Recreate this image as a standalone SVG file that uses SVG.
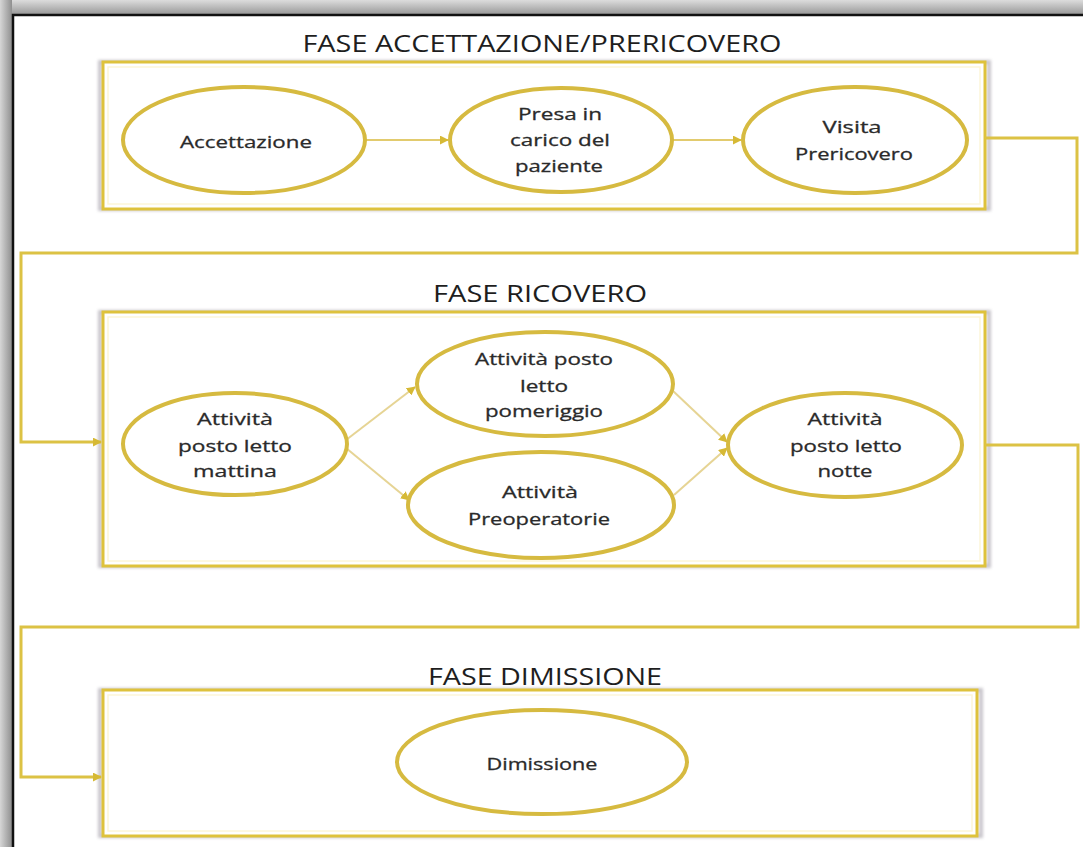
<svg xmlns="http://www.w3.org/2000/svg" width="1083" height="847" viewBox="0 0 1083 847">
  <style>
    .phase { fill: #ffffff; stroke: #DEC23C; stroke-width: 3; }
    .phase-inner { fill: none; stroke: #FDF6D8; stroke-width: 1.5; }
    .phase-shadow { fill: none; stroke: #C9C6CC; stroke-width: 4; }
    .node { fill: #ffffff; stroke: #D6BA40; stroke-width: 4; }
    .title { font-family: "Open Sans", "Liberation Sans", sans-serif; font-size: 24px; fill: #1e1e1e; text-anchor: middle; }
    .label { font-family: "Open Sans", "Liberation Sans", sans-serif; font-size: 17px; fill: #2a2a2a; text-anchor: middle; stroke: #2a2a2a; stroke-width: 0.3; }
    .link { fill: none; stroke: #DCC244; stroke-width: 3; }
    .flow { fill: none; stroke: #E2CB6E; stroke-width: 2; }
    .branch { fill: none; stroke: #E6D494; stroke-width: 2; }
  </style>
  <defs>
    <marker id="arrow" viewBox="0 0 10 10" refX="9" refY="5" markerWidth="9" markerHeight="9" markerUnits="userSpaceOnUse" orient="auto">
      <path d="M0,0 L10,5 L0,10 z" fill="#D6B935"/>
    </marker>
    <linearGradient id="topShade" x1="0" y1="0" x2="0" y2="1">
      <stop offset="0" stop-color="#dcdcdc"/>
      <stop offset="1" stop-color="#9a9a9a"/>
    </linearGradient>
    <linearGradient id="leftShade" x1="0" y1="0" x2="1" y2="0">
      <stop offset="0" stop-color="#d6d6d6"/>
      <stop offset="1" stop-color="#8f8f8f"/>
    </linearGradient>
    <filter id="soft" x="-5%" y="-5%" width="110%" height="110%">
      <feGaussianBlur stdDeviation="1.5"/>
    </filter>
  </defs>

  <!-- page frame with shaded margin -->
  <rect x="0" y="0" width="1083" height="847" fill="#ffffff"/>
  <rect x="0" y="0" width="1083" height="14" fill="url(#topShade)"/>
  <rect x="0" y="0" width="12" height="847" fill="url(#leftShade)"/>
  <path d="M13,847 V15 H1083" fill="none" stroke="#111111" stroke-width="2.5"/>

  <!-- phase 1: acceptance / pre-admission -->
  <g id="phase-accettazione">
    <rect class="phase-shadow" x="100" y="62" width="889" height="147" filter="url(#soft)"/>
    <rect class="phase" x="103" y="62" width="882" height="147"/>
    <rect class="phase-inner" x="108" y="67" width="872" height="137"/>
    <text class="title" x="542" y="52" textLength="479" lengthAdjust="spacingAndGlyphs">FASE ACCETTAZIONE/PRERICOVERO</text>
  </g>

  <!-- phase 2: admission -->
  <g id="phase-ricovero">
    <rect class="phase-shadow" x="100" y="312" width="889" height="254" filter="url(#soft)"/>
    <rect class="phase" x="103" y="312" width="882" height="254"/>
    <rect class="phase-inner" x="108" y="317" width="872" height="244"/>
    <text class="title" x="540" y="302" textLength="214" lengthAdjust="spacingAndGlyphs">FASE RICOVERO</text>
  </g>

  <!-- phase 3: discharge -->
  <g id="phase-dimissione">
    <rect class="phase-shadow" x="100" y="690" width="881" height="146" filter="url(#soft)"/>
    <rect class="phase" x="103" y="690" width="874" height="146"/>
    <rect class="phase-inner" x="108" y="695" width="864" height="136"/>
    <text class="title" x="545" y="685" textLength="234" lengthAdjust="spacingAndGlyphs">FASE DIMISSIONE</text>
  </g>

  <!-- connectors -->
  <g id="connectors">
    <path class="link" d="M985,138 H1077 V253 H21 V442 H101" marker-end="url(#arrow)"/>
    <path class="link" d="M985,445 H1078 V627 H21 V777 H101" marker-end="url(#arrow)"/>
    <path class="flow" d="M365,140 H448" marker-end="url(#arrow)"/>
    <path class="flow" d="M672,140 H741" marker-end="url(#arrow)"/>
    <path class="branch" d="M346,440 L415,387" marker-end="url(#arrow)"/>
    <path class="branch" d="M346,448 L409,500" marker-end="url(#arrow)"/>
    <path class="branch" d="M672,390 L727,442" marker-end="url(#arrow)"/>
    <path class="branch" d="M674,495 L727,448" marker-end="url(#arrow)"/>
  </g>

  <g id="node-accettazione">
    <ellipse class="node" cx="244" cy="140" rx="121" ry="53"/>
    <text class="label" x="246" y="148" textLength="132" lengthAdjust="spacingAndGlyphs">Accettazione</text>
  </g>

  <g id="node-presa-in-carico">
    <ellipse class="node" cx="561" cy="140" rx="111" ry="52"/>
    <text class="label" x="560" y="120" textLength="84" lengthAdjust="spacingAndGlyphs">Presa in</text>
    <text class="label" x="560" y="146" textLength="100" lengthAdjust="spacingAndGlyphs">carico del</text>
    <text class="label" x="559" y="172" textLength="88" lengthAdjust="spacingAndGlyphs">paziente</text>
  </g>

  <g id="node-visita-prericovero">
    <ellipse class="node" cx="855" cy="140" rx="112" ry="53"/>
    <text class="label" x="852" y="133" textLength="59" lengthAdjust="spacingAndGlyphs">Visita</text>
    <text class="label" x="854" y="160" textLength="118" lengthAdjust="spacingAndGlyphs">Prericovero</text>
  </g>

  <g id="node-mattina">
    <ellipse class="node" cx="235" cy="444" rx="112" ry="51"/>
    <text class="label" x="235" y="425" textLength="76" lengthAdjust="spacingAndGlyphs">Attività</text>
    <text class="label" x="235" y="452" textLength="114" lengthAdjust="spacingAndGlyphs">posto letto</text>
    <text class="label" x="235" y="477" textLength="84" lengthAdjust="spacingAndGlyphs">mattina</text>
  </g>

  <g id="node-pomeriggio">
    <ellipse class="node" cx="545" cy="384" rx="128" ry="52"/>
    <text class="label" x="544" y="365" textLength="138" lengthAdjust="spacingAndGlyphs">Attività posto</text>
    <text class="label" x="544" y="392" textLength="48" lengthAdjust="spacingAndGlyphs">letto</text>
    <text class="label" x="544" y="417" textLength="118" lengthAdjust="spacingAndGlyphs">pomeriggio</text>
  </g>

  <g id="node-preoperatorie">
    <ellipse class="node" cx="541" cy="505" rx="133" ry="53"/>
    <text class="label" x="540" y="498" textLength="76" lengthAdjust="spacingAndGlyphs">Attività</text>
    <text class="label" x="539" y="525" textLength="142" lengthAdjust="spacingAndGlyphs">Preoperatorie</text>
  </g>

  <g id="node-notte">
    <ellipse class="node" cx="845" cy="445" rx="117" ry="52"/>
    <text class="label" x="845" y="425" textLength="75" lengthAdjust="spacingAndGlyphs">Attività</text>
    <text class="label" x="846" y="452" textLength="112" lengthAdjust="spacingAndGlyphs">posto letto</text>
    <text class="label" x="845" y="477" textLength="55" lengthAdjust="spacingAndGlyphs">notte</text>
  </g>

  <g id="node-dimissione">
    <ellipse class="node" cx="542" cy="762" rx="145" ry="52"/>
    <text class="label" x="542" y="770" textLength="111" lengthAdjust="spacingAndGlyphs">Dimissione</text>
  </g>
</svg>
